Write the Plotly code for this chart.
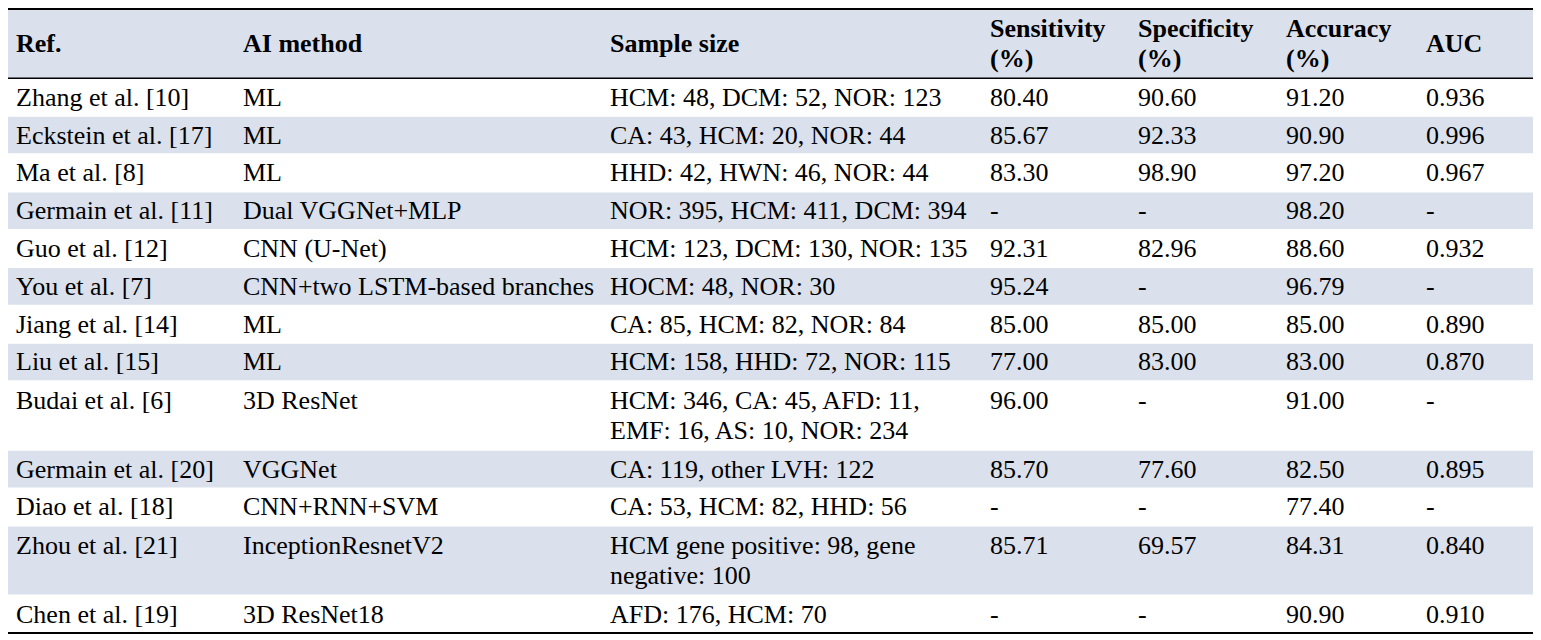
import plotly.graph_objects as go

headers = ["Ref.", "AI method", "Sample size", "Sensitivity<br>(%)",
           "Specificity<br>(%)", "Accuracy<br>(%)", "AUC"]

refs = ["Zhang et al. [10]", "Eckstein et al. [17]", "Ma et al. [8]",
        "Germain et al. [11]", "Guo et al. [12]", "You et al. [7]",
        "Jiang et al. [14]", "Liu et al. [15]", "Budai et al. [6]",
        "Germain et al. [20]", "Diao et al. [18]", "Zhou et al. [21]",
        "Chen et al. [19]"]
methods = ["ML", "ML", "ML", "Dual VGGNet+MLP", "CNN (U-Net)",
           "CNN+two LSTM-based branches", "ML", "ML", "3D ResNet", "VGGNet",
           "CNN+RNN+SVM", "InceptionResnetV2", "3D ResNet18"]
samples = ["HCM: 48, DCM: 52, NOR: 123", "CA: 43, HCM: 20, NOR: 44",
           "HHD: 42, HWN: 46, NOR: 44", "NOR: 395, HCM: 411, DCM: 394",
           "HCM: 123, DCM: 130, NOR: 135", "HOCM: 48, NOR: 30",
           "CA: 85, HCM: 82, NOR: 84", "HCM: 158, HHD: 72, NOR: 115",
           "HCM: 346, CA: 45, AFD: 11,<br>EMF: 16, AS: 10, NOR: 234",
           "CA: 119, other LVH: 122", "CA: 53, HCM: 82, HHD: 56",
           "HCM gene positive: 98, gene<br>negative: 100", "AFD: 176, HCM: 70"]
sensitivity = ["80.40", "85.67", "83.30", "-", "92.31", "95.24", "85.00",
               "77.00", "96.00", "85.70", "-", "85.71", "-"]
specificity = ["90.60", "92.33", "98.90", "-", "82.96", "-", "85.00",
               "83.00", "-", "77.60", "-", "69.57", "-"]
accuracy = ["91.20", "90.90", "97.20", "98.20", "88.60", "96.79", "85.00",
            "83.00", "91.00", "82.50", "77.40", "84.31", "90.90"]
auc = ["0.936", "0.996", "0.967", "-", "0.932", "-", "0.890", "0.870", "-",
       "0.895", "-", "0.840", "0.910"]

columns = [refs, methods, samples, sensitivity, specificity, accuracy, auc]

# ---- styling / layout constants ----
FONT = "Liberation Serif"
FSIZE = 26
SHADE = "#DBE1EC"
col_widths = [227, 367, 380, 148, 148, 140, 117]
TABLE_LEFT = 7
TABLE_TOP = 5
TEXT_PAD = 9
LINE = 31
TEXT_SHIFT = 2
HEADER_H = 70
ROW_H = {1: 38.2, 2: 70}

W, H = 1541, 640
BODY_OFF = 8  # default page margin of the html body
FIG_W, FIG_H = W - BODY_OFF, H - BODY_OFF

col_left = [TABLE_LEFT]
for w in col_widths[:-1]:
    col_left.append(col_left[-1] + w)
table_right = TABLE_LEFT + sum(col_widths)

n_rows = len(refs)
row_lines = [max(len(col[i].split("<br>")) for col in columns) for i in range(n_rows)]
row_top = []
y = TABLE_TOP + HEADER_H
for i in range(n_rows):
    row_top.append(y)
    y += ROW_H[row_lines[i]]
table_bottom = y

fig = go.Figure()

# shaded header + alternating rows
bands = [(TABLE_TOP, TABLE_TOP + HEADER_H)]
for i in range(n_rows):
    if i % 2 == 1:
        bands.append((row_top[i] + 0.6, row_top[i] + ROW_H[row_lines[i]] - 0.6))
for y0, y1 in bands:
    fig.add_shape(type="rect", xref="x", yref="y", x0=TABLE_LEFT, x1=table_right,
                  y0=y0, y1=y1, fillcolor=SHADE, line=dict(width=0), layer="below")

# rules
for yy, lw in [(TABLE_TOP, 2), (TABLE_TOP + HEADER_H, 1.4), (table_bottom, 1.8)]:
    fig.add_shape(type="line", xref="x", yref="y", x0=TABLE_LEFT, x1=table_right,
                  y0=yy, y1=yy, line=dict(color="black", width=lw))

# header text (each cell centred vertically in the header)
hx, hy, ht = [], [], []
for c, h in enumerate(headers):
    parts = h.split("<br>")
    for k, p in enumerate(parts):
        hx.append(col_left[c] + TEXT_PAD)
        hy.append(TABLE_TOP + HEADER_H / 2 + TEXT_SHIFT + (k - (len(parts) - 1) / 2) * LINE)
        ht.append("<b>%s</b>" % p)
fig.add_trace(go.Scatter(x=hx, y=hy, text=ht, mode="text", textposition="middle right",
                         textfont=dict(family=FONT, size=FSIZE, color="black"),
                         hoverinfo="skip", showlegend=False))

# body text (top-aligned lines inside each row block)
for c, col in enumerate(columns):
    bx, by, bt = [], [], []
    for i in range(n_rows):
        L = row_lines[i]
        hgt = ROW_H[L]
        for k, p in enumerate(col[i].split("<br>")):
            bx.append(col_left[c] + TEXT_PAD)
            by.append(row_top[i] + hgt / 2 + TEXT_SHIFT + (k - (L - 1) / 2) * LINE)
            bt.append(p)
    fig.add_trace(go.Scatter(x=bx, y=by, text=bt, mode="text", textposition="middle right",
                             textfont=dict(family=FONT, size=FSIZE, color="black"),
                             hoverinfo="skip", showlegend=False))

# map reference pixel grid onto the figure (page is offset by body margin)
page_top, page_bot = BODY_OFF + 1, 633
s = (page_bot - page_top) / (table_bottom - TABLE_TOP)
y_at_fig_top = TABLE_TOP - (page_top - BODY_OFF) / s
y_at_fig_bot = TABLE_TOP + (H - page_top) / s

fig.update_layout(
    width=FIG_W, height=FIG_H,
    margin=dict(l=0, r=0, t=0, b=0),
    paper_bgcolor="white", plot_bgcolor="white",
    xaxis=dict(range=[BODY_OFF, W], visible=False, fixedrange=True),
    yaxis=dict(range=[y_at_fig_bot, y_at_fig_top], visible=False, fixedrange=True),
    showlegend=False,
)
fig.write_html("out.html")
